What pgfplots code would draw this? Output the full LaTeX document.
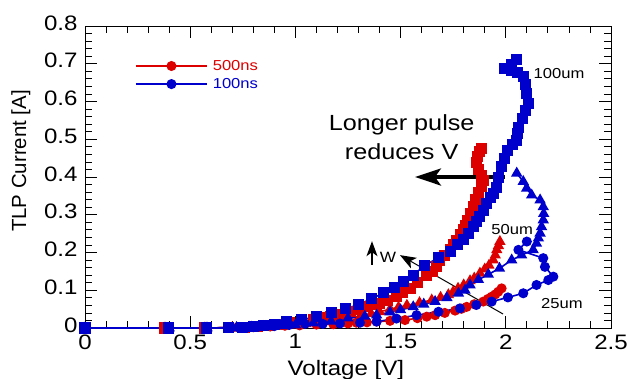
\documentclass[border=0pt]{standalone}
\usepackage{pgfplots}
\pgfplotsset{compat=1.18}
\usetikzlibrary{arrows.meta}
\usepackage{fontspec}
\setmainfont{Liberation Sans}[FakeStretch=1.15]
\newfontfamily\uprightlabel{Liberation Sans}
\definecolor{tlpred}{RGB}{221,0,0}
\definecolor{tlpblue}{RGB}{0,0,204}
\begin{document}
\begin{tikzpicture}
\path[use as bounding box] (0,0) rectangle (629bp,379bp);
\begin{axis}[
  at={(85bp,51bp)}, anchor=south west,
  scale only axis, width=526bp, height=302bp,
  xmin=0, xmax=2.5, ymin=0, ymax=0.8,
  xtick={0,0.5,1,1.5,2,2.5},
  ytick={0,0.1,0.2,0.3,0.4,0.5,0.6,0.7,0.8},
  xticklabels={0,0.5,1,1.5,2,2.5},
  yticklabels={0,0.1,0.2,0.3,0.4,0.5,0.6,0.7,0.8},
  minor x tick num=4, minor y tick num=4,
  tick align=inside, xtick pos=both, ytick pos=both,
  major tick length=12bp, minor tick length=7bp,
  tick style={black, line width=0.8bp},
  axis line style={black, line width=1bp},
  ticklabel style={font=\fontsize{21}{23}\selectfont},
  xticklabel style={yshift=-3bp},
  yticklabel style={xshift=-4bp, yshift=3bp},
  /pgf/number format/assume math mode=true,
  xlabel={Voltage [V]}, ylabel={TLP Current [A]},
  every axis x label/.style={at={(axis description cs:0.496,-0.156)}, anchor=base,
    font=\fontsize{21}{23}\selectfont},
  every axis y label/.style={at={(axis description cs:-0.122,0.553)}, anchor=center,
    rotate=90, font=\uprightlabel\fontsize{20.5}{23}\selectfont},
  clip=false,
  every axis plot/.append style={line width=1.6bp, mark options={solid}},
  legend style={draw=none, fill=none, at={(0.095,0.894)}, anchor=north west,
    inner sep=0pt, row sep=2.5bp, column sep=3bp, font=\fontsize{14.5}{16}\selectfont,
    nodes={inner sep=2bp}},
  legend cell align=left,
  legend image code/.code={%
    \draw[mark repeat=2, mark phase=2, #1] plot coordinates {(0bp,0bp) (35.5bp,0bp) (71bp,0bp)};},
]
\addlegendimage{tlpred, mark=*, mark size=4.2bp, line width=1.6bp}
\addlegendentry{\textcolor{tlpred}{500ns}}
\addlegendimage{tlpblue, mark=*, mark size=4.2bp, line width=1.6bp}
\addlegendentry{\textcolor{tlpblue}{100ns}}

% 500 ns, 25 um
\addplot[tlpred, mark=*, mark size=4.2bp, forget plot] coordinates {
 (0.38,0) (0.57,0) (0.70,0.001) (0.80,0.002) (0.88,0.004) (0.95,0.006)
 (1.02,0.007) (1.10,0.009) (1.18,0.010) (1.25,0.012) (1.29,0.014) (1.34,0.015)
 (1.386,0.017) (1.45,0.019) (1.521,0.021) (1.58,0.026) (1.624,0.030) (1.664,0.034)
 (1.71,0.040) (1.759,0.046) (1.79,0.051) (1.814,0.056) (1.85,0.063) (1.893,0.070)
 (1.915,0.077) (1.933,0.083) (1.95,0.089) (1.964,0.096) (1.98,0.105)};
% 500 ns, 50 um
\addplot[tlpred, mark=triangle*, mark size=5bp, forget plot] coordinates {
 (0.38,0) (0.57,0) (0.70,0.001) (0.78,0.002) (0.85,0.004) (0.92,0.006)
 (0.98,0.008) (1.05,0.011) (1.12,0.014) (1.18,0.018) (1.244,0.024) (1.31,0.032)
 (1.36,0.038) (1.40,0.043) (1.45,0.050) (1.49,0.055) (1.53,0.060) (1.59,0.067)
 (1.648,0.074) (1.69,0.081) (1.727,0.088) (1.75,0.096) (1.773,0.105) (1.80,0.114)
 (1.83,0.125) (1.85,0.132) (1.877,0.145) (1.90,0.156) (1.92,0.166) (1.94,0.180)
 (1.95,0.193) (1.957,0.207) (1.965,0.218) (1.972,0.229)};
% 500 ns, 100 um
\addplot[tlpred, mark=square*, mark size=4.7bp, forget plot] coordinates {
 (0.38,0) (0.57,0) (0.68,0.001) (0.76,0.002) (0.82,0.004) (0.87,0.006)
 (0.92,0.010) (0.97,0.014) (1.03,0.018) (1.085,0.022) (1.13,0.027) (1.165,0.031)
 (1.21,0.037) (1.26,0.044) (1.30,0.050) (1.34,0.057) (1.37,0.061) (1.40,0.066)
 (1.44,0.074) (1.48,0.084) (1.51,0.094) (1.545,0.105) (1.58,0.120) (1.624,0.140)
 (1.65,0.150) (1.67,0.162) (1.687,0.178) (1.71,0.192) (1.735,0.207) (1.75,0.220)
 (1.767,0.233) (1.785,0.248) (1.80,0.260) (1.81,0.272) (1.82,0.286) (1.833,0.303)
 (1.845,0.321) (1.857,0.340) (1.87,0.360) (1.885,0.375) (1.895,0.390) (1.885,0.405)
 (1.872,0.420) (1.862,0.438) (1.866,0.455) (1.876,0.468) (1.885,0.476)};

% 100 ns, 25 um
\addplot[tlpblue, mark=*, mark size=4.2bp, forget plot] coordinates {
 (0,0) (0.40,0) (0.58,0) (0.73,0.001) (0.82,0.003) (0.90,0.005) (0.97,0.008)
 (1.046,0.011) (1.13,0.011) (1.212,0.012) (1.307,0.014) (1.386,0.017) (1.48,0.025)
 (1.576,0.034) (1.68,0.043) (1.782,0.052) (1.86,0.061) (1.933,0.070) (2.01,0.081)
 (2.083,0.092) (2.146,0.114) (2.202,0.127) (2.226,0.136) (2.186,0.162) (2.178,0.185)
 (2.06,0.207) (2.10,0.229)};
% 100 ns, 50 um
\addplot[tlpblue, mark=triangle*, mark size=5bp, forget plot] coordinates {
 (0,0) (0.40,0) (0.58,0) (0.72,0.001) (0.79,0.002) (0.86,0.004) (0.93,0.006)
 (1.00,0.008) (1.085,0.013) (1.17,0.018) (1.25,0.026) (1.33,0.031) (1.386,0.034)
 (1.45,0.042) (1.50,0.048) (1.56,0.056) (1.61,0.063) (1.664,0.070) (1.72,0.080)
 (1.775,0.092) (1.806,0.100) (1.83,0.114) (1.87,0.128) (1.917,0.142) (1.97,0.158)
 (2.028,0.180) (2.075,0.193) (2.13,0.207) (2.146,0.224) (2.155,0.238) (2.163,0.251)
 (2.17,0.268) (2.178,0.286) (2.18,0.303) (2.178,0.321) (2.163,0.339) (2.123,0.352)
 (2.099,0.370) (2.083,0.388) (2.052,0.410)};
% 100 ns, 100 um
\addplot[tlpblue, mark=square*, mark size=4.7bp, forget plot] coordinates {
 (0,0) (0.396,0) (0.578,0) (0.68,0.001) (0.75,0.002) (0.80,0.004) (0.85,0.006)
 (0.90,0.010) (0.96,0.016) (1.03,0.022) (1.10,0.030) (1.17,0.040) (1.24,0.051)
 (1.30,0.062) (1.36,0.077) (1.42,0.093) (1.47,0.106) (1.515,0.122) (1.56,0.140)
 (1.615,0.166) (1.68,0.186) (1.735,0.203) (1.77,0.220) (1.80,0.234) (1.825,0.250)
 (1.846,0.268) (1.862,0.282) (1.877,0.296) (1.893,0.312) (1.909,0.330) (1.925,0.345)
 (1.94,0.357) (1.957,0.372) (1.963,0.400) (1.98,0.427) (1.996,0.450) (2.01,0.470)
 (2.03,0.485) (2.052,0.498) (2.055,0.515) (2.06,0.530) (2.08,0.556) (2.095,0.575)
 (2.107,0.595) (2.10,0.622) (2.092,0.645) (2.083,0.666) (2.055,0.676) (2.025,0.682)
 (1.996,0.688) (2.025,0.698) (2.052,0.712)};

% annotations
\node[font=\fontsize{14.5}{16}\selectfont] at (axis cs:2.253,0.675) {100um};
\node[font=\fontsize{14.5}{16}\selectfont] at (axis cs:2.03,0.262) {50um};
\node[font=\fontsize{14.5}{16}\selectfont] at (axis cs:2.267,0.066) {25um};
\node[font=\fontsize{22}{29}\selectfont, align=center] at (axis cs:1.505,0.505) {Longer pulse\\reduces V};
\draw[-{Stealth[length=26bp,width=17bp,inset=6bp]}, line width=3.8bp] (axis cs:1.996,0.40) -- (axis cs:1.568,0.40);
\draw[-{Stealth[length=16bp,width=12bp,inset=4bp]}, line width=1bp] (axis cs:1.987,0.037) -- (axis cs:1.497,0.193);
\draw[-{Stealth[length=15bp,width=11bp,inset=4bp]}, line width=1.2bp] (axis cs:1.364,0.167) -- (axis cs:1.364,0.230);
\node[font=\fontsize{15}{16}\selectfont] at (axis cs:1.44,0.188) {W};
\end{axis}
\end{tikzpicture}
\end{document}
